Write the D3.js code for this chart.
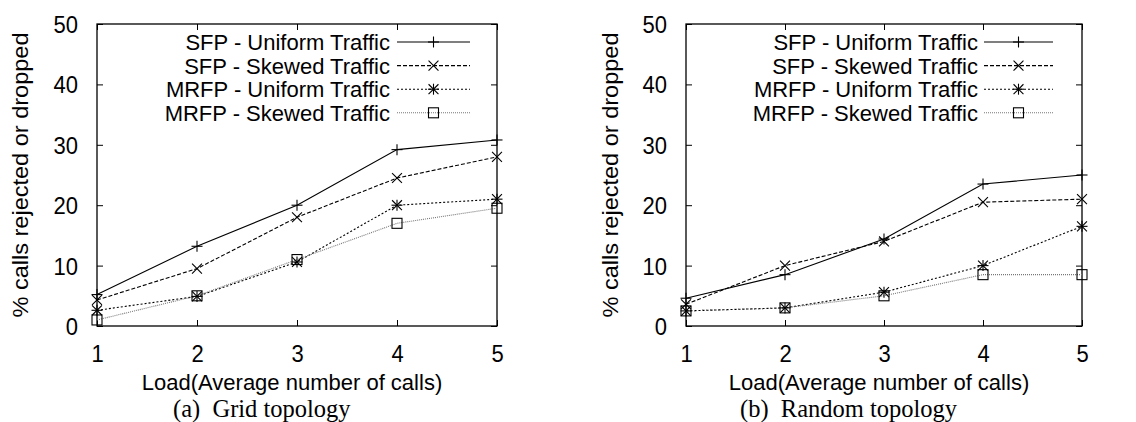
<!DOCTYPE html>
<html>
<head>
<meta charset="utf-8">
<script src="https://cdn.jsdelivr.net/npm/d3@7"></script>
<style>
  html, body { margin: 0; padding: 0; background: #fff; }
  svg { display: block; }
  .tick text, .lbl { font-family: "Liberation Sans", Arial, Helvetica, sans-serif; fill: #000; }
  .cap { font-family: "Liberation Serif", "Times New Roman", serif; fill: #000; }
</style>
</head>
<body>
<svg id="chart" width="1136" height="422"></svg>
<script>
// Load values on the x axis
const loads = [1, 2, 3, 4, 5];
const xTicks = [1, 2, 3, 4, 5];
const yTicks = [0, 10, 20, 30, 40, 50];
const seriesNames = [
  "SFP - Uniform Traffic",
  "SFP - Skewed Traffic",
  "MRFP - Uniform Traffic",
  "MRFP - Skewed Traffic"
];

// (a) Grid topology: % calls rejected or dropped
const gridSfpUniform  = [5.2, 13.2, 20.0, 29.2, 30.8];
const gridSfpSkewed   = [4.3, 9.5, 18.0, 24.5, 28.0];
const gridMrfpUniform = [2.6, 4.9, 10.6, 20.0, 21.0];
const gridMrfpSkewed  = [1.0, 5.0, 11.0, 17.0, 19.5];

// (b) Random topology: % calls rejected or dropped
const randSfpUniform  = [4.6, 8.5, 14.4, 23.5, 25.0];
const randSfpSkewed   = [3.6, 10.0, 14.0, 20.5, 21.0];
const randMrfpUniform = [2.5, 3.0, 5.6, 10.0, 16.5];
const randMrfpSkewed  = [2.5, 3.0, 5.0, 8.5, 8.5];

// line style and point type per series (gnuplot-like)
const styles = [
  { dash: null,  color: "#000", point: "plus" },
  { dash: "4,2", color: "#000", point: "cross" },
  { dash: "2,2", color: "#000", point: "star" },
  { dash: "1,1", color: "#777", point: "box" }
];

const svg = d3.select("#chart");
const FONT = 22;
const STRETCH = 1.07;   // tick digits and the y title are drawn slightly elongated

function drawPoint(g, type, cx, cy) {
  const r = 5.5;
  const p = g.append("g").attr("transform", `translate(${cx},${cy})`)
    .attr("stroke", "#000").attr("stroke-width", 1.1).attr("fill", "none");
  if (type === "plus" || type === "star") {
    p.append("line").attr("x1", -r).attr("x2", r).attr("y1", 0).attr("y2", 0);
    p.append("line").attr("x1", 0).attr("x2", 0).attr("y1", -r).attr("y2", r);
  }
  if (type === "cross" || type === "star") {
    const d = r * 0.9;
    p.append("line").attr("x1", -d).attr("x2", d).attr("y1", -d).attr("y2", d);
    p.append("line").attr("x1", -d).attr("x2", d).attr("y1", d).attr("y2", -d);
  }
  if (type === "box") {
    p.append("rect").attr("x", -5).attr("y", -5).attr("width", 10).attr("height", 10);
  }
}

function panel(cfg) {
  const x = d3.scaleLinear().domain([1, 5]).range([cfg.left, cfg.right]);
  const y = d3.scaleLinear().domain([0, 50]).range([326, 24]);
  const g = svg.append("g");

  // axes with inward ticks, mirrored on top and right
  const bottom = g.append("g").attr("transform", `translate(0,${y(0)})`)
    .call(d3.axisBottom(x).tickValues(xTicks).tickSize(-6).tickPadding(19).tickFormat(d3.format("d")));
  const top = g.append("g").attr("transform", `translate(0,${y(50)})`)
    .call(d3.axisTop(x).tickValues(xTicks).tickSize(-6).tickFormat(""));
  const left = g.append("g").attr("transform", `translate(${cfg.left},0)`)
    .call(d3.axisLeft(y).tickValues(yTicks).tickSize(-6).tickPadding(13).tickFormat(d3.format("d")));
  const right = g.append("g").attr("transform", `translate(${cfg.right},0)`)
    .call(d3.axisRight(y).tickValues(yTicks).tickSize(-6).tickFormat(""));
  [bottom, top, left, right].forEach(a => {
    a.select(".domain").remove();
    a.selectAll(".tick line").attr("stroke", "#000").attr("stroke-width", 1);
    a.selectAll(".tick text").attr("font-size", FONT).attr("font-family", null);
  });
  bottom.selectAll(".tick text")
    .attr("y", null).attr("dy", null)
    .attr("transform", `translate(0,${19 + 0.71 * FONT * STRETCH}) scale(1,${STRETCH})`);
  left.selectAll(".tick text")
    .attr("x", null).attr("dy", null)
    .attr("transform", `translate(-19,${0.36 * FONT * STRETCH}) scale(1,${STRETCH})`);

  g.append("rect")
    .attr("x", cfg.left).attr("y", y(50))
    .attr("width", cfg.right - cfg.left).attr("height", y(0) - y(50))
    .attr("fill", "none").attr("stroke", "#000").attr("stroke-width", 1.3);

  // series lines
  const line = d3.line().x((d, i) => x(loads[i])).y(d => y(d));
  cfg.series.forEach((vals, k) => {
    const st = styles[k];
    g.append("path").datum(vals).attr("d", line)
      .attr("fill", "none").attr("stroke", st.color).attr("stroke-width", 1.1)
      .attr("stroke-dasharray", st.dash);
  });
  cfg.series.forEach((vals, k) => {
    vals.forEach((v, i) => drawPoint(g, styles[k].point, x(loads[i]), y(v)));
  });

  // legend
  seriesNames.forEach((name, k) => {
    const ly = 42 + k * 23.6;
    const st = styles[k];
    g.append("text").attr("class", "lbl").attr("x", cfg.legText).attr("y", ly)
      .attr("dy", "0.36em").attr("text-anchor", "end").attr("font-size", FONT).text(name);
    g.append("line").attr("x1", cfg.legX0).attr("x2", cfg.legX1).attr("y1", ly).attr("y2", ly)
      .attr("stroke", st.color).attr("stroke-width", 1.1).attr("stroke-dasharray", st.dash);
    drawPoint(g, st.point, (cfg.legX0 + cfg.legX1) / 2, ly);
  });

  // axis titles
  g.append("text").attr("class", "lbl")
    .attr("transform", `translate(${cfg.ylabX},175) rotate(-90) scale(${STRETCH},1)`)
    .attr("text-anchor", "middle").attr("dy", "0.36em").attr("font-size", FONT)
    .text("% calls rejected or dropped");
  g.append("text").attr("class", "lbl")
    .attr("x", (cfg.left + cfg.right) / 2 - 5).attr("y", 389.5)
    .attr("text-anchor", "middle").attr("font-size", FONT)
    .text("Load(Average number of calls)");
  g.append("text").attr("class", "cap")
    .attr("x", cfg.capX).attr("y", 416.5)
    .attr("font-size", 24.5).text(cfg.caption);
}

panel({
  left: 97, right: 497, ylabX: 20,
  legText: 390, legX0: 397, legX1: 470,
  capX: 173, caption: "(a)\u2002Grid topology",
  series: [gridSfpUniform, gridSfpSkewed, gridMrfpUniform, gridMrfpSkewed]
});
panel({
  left: 686, right: 1082, ylabX: 610,
  legText: 978, legX0: 984, legX1: 1053,
  capX: 740, caption: "(b)\u2002Random topology",
  series: [randSfpUniform, randSfpSkewed, randMrfpUniform, randMrfpSkewed]
});
</script>
</body>
</html>
